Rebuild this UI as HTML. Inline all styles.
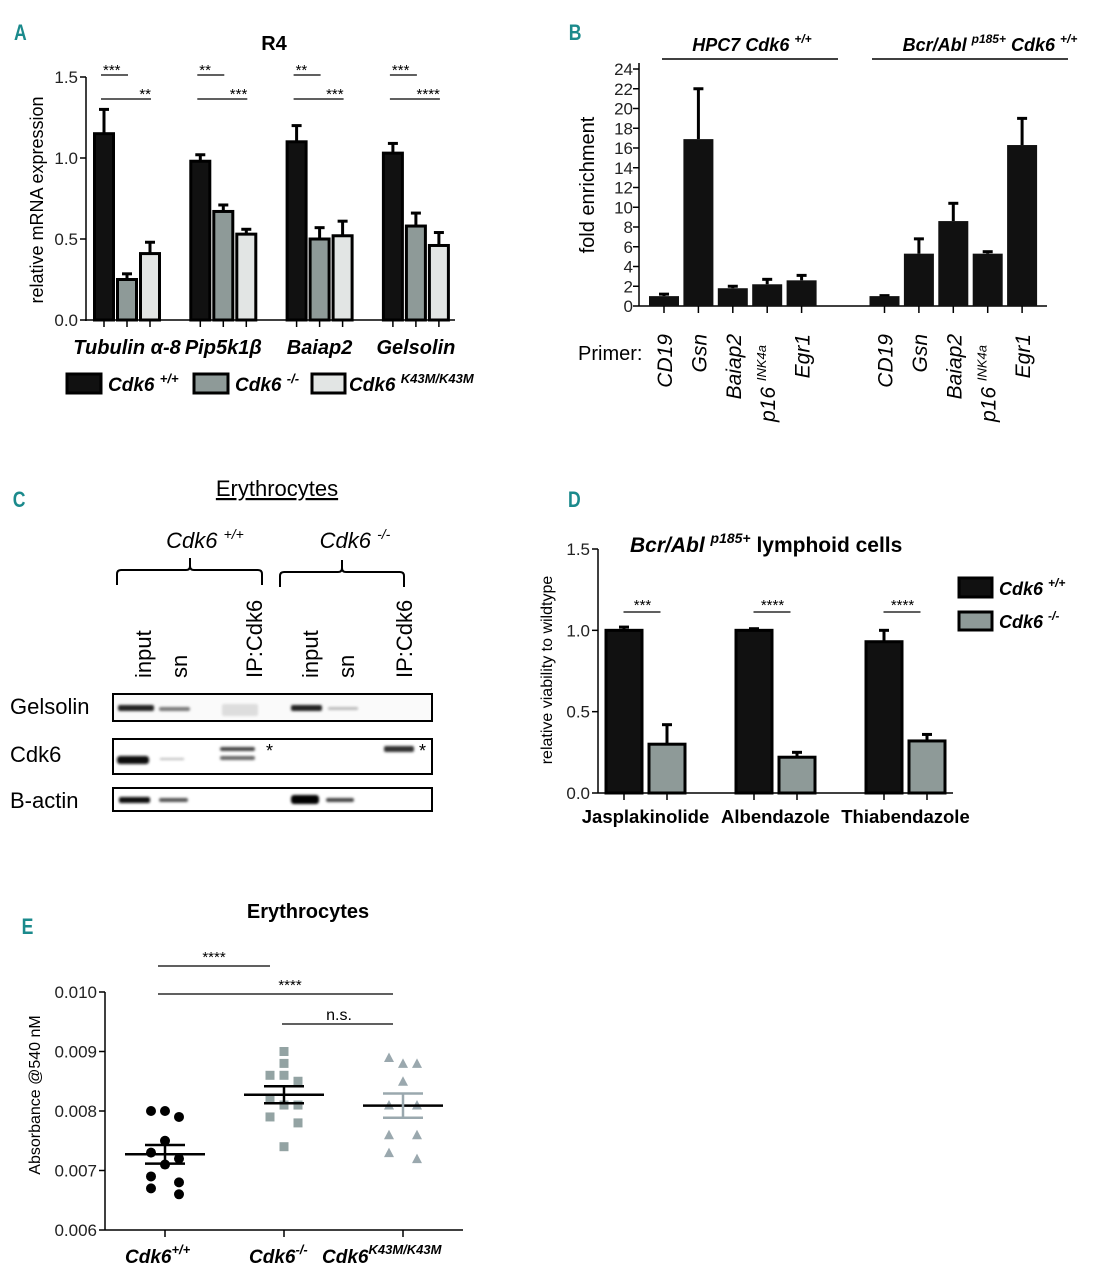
<!DOCTYPE html>
<html><head><meta charset="utf-8"><style>
html,body{margin:0;padding:0;background:#fff;}
svg{display:block;font-family:"Liberation Sans",Arial,sans-serif;}
</style></head><body>
<svg id="fig" width="1118" height="1280" viewBox="0 0 1118 1280" xmlns="http://www.w3.org/2000/svg">
<defs><filter id="blur" x="-20%" y="-100%" width="140%" height="300%"><feGaussianBlur stdDeviation="1.2"/></filter></defs>

<g fill="#1b8a8c" font-weight="bold" font-size="22">
<text x="14" y="40" transform="scale(0.8,1) translate(3.5,0)">A</text>
<text x="711" y="40" transform="scale(0.8,1)">B</text>
<text x="16" y="507" transform="scale(0.8,1)">C</text>
<text x="710" y="507" transform="scale(0.8,1)">D</text>
<text x="27" y="934" transform="scale(0.8,1)">E</text>
</g>

<g id="panelA">
<text x="274" y="50" font-size="20" font-weight="bold" text-anchor="middle">R4</text>
<text transform="translate(43,200) rotate(-90)" font-size="18" text-anchor="middle">relative mRNA expression</text>
<g font-size="19" font-weight="bold" font-style="italic">
<rect x="67" y="374" width="34" height="19" fill="#111" stroke="#000" stroke-width="3"/>
<text x="108" y="391">Cdk6 <tspan font-size="13" dy="-8">+/+</tspan></text>
<rect x="194" y="374" width="34" height="19" fill="#8e9a98" stroke="#000" stroke-width="3"/>
<text x="235" y="391">Cdk6 <tspan font-size="13" dy="-8">-/-</tspan></text>
<rect x="312" y="374" width="33" height="19" fill="#e2e5e4" stroke="#000" stroke-width="3"/>
<text x="349" y="391">Cdk6 <tspan font-size="13" dy="-8">K43M/K43M</tspan></text>
</g>
</g>

<g id="panelB">
<text transform="translate(594,185) rotate(-90)" font-size="20" text-anchor="middle">fold enrichment</text>
<g font-size="18" font-weight="bold" font-style="italic">
<text x="752" y="51" text-anchor="middle">HPC7 Cdk6 <tspan font-size="12" dy="-8">+/+</tspan></text>
<text x="990" y="51" text-anchor="middle">Bcr/Abl <tspan font-size="12" dy="-8">p185+</tspan><tspan dy="8"> Cdk6 </tspan><tspan font-size="12" dy="-8">+/+</tspan></text>
</g>
<line x1="662" y1="59" x2="838" y2="59" stroke="#000" stroke-width="1.5"/>
<line x1="872" y1="59" x2="1068" y2="59" stroke="#000" stroke-width="1.5"/>
<text x="578" y="360" font-size="20">Primer:</text>
</g>

<g id="panelC">
<text x="277" y="496" font-size="22" text-anchor="middle" text-decoration="underline">Erythrocytes</text>
<text x="205" y="548" font-size="22" font-style="italic" text-anchor="middle">Cdk6 <tspan font-size="14" dy="-9">+/+</tspan></text>
<text x="355" y="548" font-size="22" font-style="italic" text-anchor="middle">Cdk6 <tspan font-size="14" dy="-9">-/-</tspan></text>
<path d="M117,585 V574 Q117,570 121,570 H186 Q190,570 190,566 V558 M190,566 Q190,570 194,570 H258 Q262,570 262,574 V585" fill="none" stroke="#000" stroke-width="2"/>
<path d="M280,587 V576 Q280,572 284,572 H338 Q342,572 342,568 V560 M342,568 Q342,572 346,572 H400 Q404,572 404,576 V587" fill="none" stroke="#000" stroke-width="2"/>
<g font-size="22">
<text transform="translate(151,678) rotate(-90)">input</text>
<text transform="translate(187,678) rotate(-90)">sn</text>
<text transform="translate(262,678) rotate(-90)">IP:Cdk6</text>
<text transform="translate(318,678) rotate(-90)">input</text>
<text transform="translate(354,678) rotate(-90)">sn</text>
<text transform="translate(412,678) rotate(-90)">IP:Cdk6</text>
<text x="10" y="714">Gelsolin</text>
<text x="10" y="762">Cdk6</text>
<text x="10" y="808">B-actin</text>
</g>
<rect x="113" y="694" width="319" height="27" fill="#fafafa" stroke="#000" stroke-width="2"/>
<rect x="113" y="739" width="319" height="35" fill="#fff" stroke="#000" stroke-width="2"/>
<rect x="113" y="788" width="319" height="23" fill="#fff" stroke="#000" stroke-width="2"/>
<g filter="url(#blur)">
<rect x="118" y="705" width="36" height="6" rx="2" fill="#222"/>
<rect x="159" y="707" width="31" height="4" rx="2" fill="#777"/>
<rect x="222" y="704" width="36" height="12" rx="2" fill="#ddd"/>
<rect x="291" y="705" width="31" height="6" rx="2" fill="#222"/>
<rect x="328" y="707" width="30" height="3" rx="1" fill="#bbb"/>
<rect x="117" y="756" width="32" height="8" rx="3" fill="#111"/>
<rect x="160" y="758" width="24" height="2" fill="#bbb"/>
<rect x="220" y="747" width="35" height="4" rx="2" fill="#444"/>
<rect x="220" y="756" width="35" height="4" rx="2" fill="#666"/>
<rect x="384" y="746" width="30" height="6" rx="2" fill="#333"/>
<rect x="119" y="797" width="31" height="6" rx="2" fill="#111"/>
<rect x="159" y="798" width="29" height="4" rx="2" fill="#555"/>
<rect x="291" y="795" width="28" height="9" rx="3" fill="#000"/>
<rect x="326" y="798" width="28" height="4" rx="2" fill="#444"/>
</g>
<text x="266" y="757" font-size="18">*</text>
<text x="419" y="757" font-size="18">*</text>
</g>

<g id="panelD">
<text x="630" y="552" font-size="21" font-weight="bold"><tspan font-style="italic">Bcr/Abl </tspan><tspan font-size="14" font-style="italic" dy="-9">p185+</tspan><tspan dy="9"> lymphoid cells</tspan></text>
<text transform="translate(552,670) rotate(-90)" font-size="16" text-anchor="middle">relative viability to wildtype</text>
<g font-size="18" font-weight="bold" font-style="italic">
<rect x="959" y="578" width="33" height="19" fill="#111" stroke="#000" stroke-width="3"/>
<text x="999" y="595">Cdk6 <tspan font-size="12" dy="-8">+/+</tspan></text>
<rect x="959" y="612" width="33" height="18" fill="#8e9a98" stroke="#000" stroke-width="3"/>
<text x="999" y="628">Cdk6 <tspan font-size="12" dy="-8">-/-</tspan></text>
</g>
</g>

<g id="panelE">
<text x="308" y="918" font-size="20" font-weight="bold" text-anchor="middle">Erythrocytes</text>
<text transform="translate(40,1095) rotate(-90)" font-size="16" text-anchor="middle">Absorbance @540 nM</text>
<line x1="158" y1="966" x2="270" y2="966" stroke="#000" stroke-width="1.3"/>
<text x="214" y="962" font-size="15" text-anchor="middle">****</text>
<line x1="158" y1="994" x2="393" y2="994" stroke="#000" stroke-width="1.3"/>
<text x="290" y="990" font-size="15" text-anchor="middle">****</text>
<line x1="282" y1="1024" x2="393" y2="1024" stroke="#000" stroke-width="1.3"/>
<text x="339" y="1020" font-size="16" text-anchor="middle">n.s.</text>
</g>
</svg>

<script>
const NS='http://www.w3.org/2000/svg';
const svg=document.getElementById('fig');
function el(tag,attrs,parent){const e=document.createElementNS(NS,tag);for(const k in attrs)e.setAttribute(k,attrs[k]);(parent||svg).appendChild(e);return e;}

const aCats=['Tubulin α-8','Pip5k1β','Baiap2','Gelsolin'];
const aWT=[1.15,0.98,1.10,1.03];
const aWTerr=[0.15,0.04,0.10,0.06];
const aKO=[0.25,0.67,0.50,0.58];
const aKOerr=[0.035,0.04,0.07,0.08];
const aKM=[0.41,0.53,0.52,0.46];
const aKMerr=[0.07,0.03,0.09,0.08];
const aTicks=[0,0.5,1.0,1.5];
const aTickLabels=['0.0','0.5','1.0','1.5'];
const aSig1=['***','**','**','***'];
const aSig2=['**','***','***','****'];

const bCats1=['CD19','Gsn','Baiap2','p16','Egr1'];
const bCats2=['CD19','Gsn','Baiap2','p16','Egr1'];
const bVals1=[1.0,16.9,1.8,2.2,2.6];
const bErr1=[0.2,5.1,0.2,0.5,0.5];
const bVals2=[1.0,5.3,8.6,5.3,16.3];
const bErr2=[0.05,1.5,1.8,0.2,2.7];
const bTicks=[0,2,4,6,8,10,12,14,16,18,20,22,24];

const dCats=['Jasplakinolide','Albendazole','Thiabendazole'];
const dWT=[1.0,1.0,0.93];
const dWTerr=[0.02,0.01,0.07];
const dKO=[0.30,0.22,0.32];
const dKOerr=[0.12,0.03,0.04];
const dTicks=[0,0.5,1.0,1.5];
const dTickLabels=['0.0','0.5','1.0','1.5'];
const dSig=['***','****','****'];

const eCats=['wt','ko','k43m'];
const eWT=[0.0080,0.0079,0.0080,0.0075,0.0072,0.0073,0.0071,0.0068,0.0069,0.0067,0.0066];
const eKO=[0.0090,0.0088,0.0086,0.0086,0.0085,0.0082,0.0081,0.0081,0.0079,0.0078,0.0074];
const eKM=[0.0089,0.0088,0.0088,0.0085,0.0081,0.0081,0.0076,0.0076,0.0073,0.0072];
const eTicks=[0.006,0.007,0.008,0.009,0.010];
const eTickLabels=['0.006','0.007','0.008','0.009','0.010'];

function errBar(g,xc,ytop,yerr,name){
  const l=el('line',{x1:xc,y1:ytop,x2:xc,y2:yerr,stroke:'#000','stroke-width':3},g);
  
  
  const c=el('line',{x1:xc-5,y1:yerr,x2:xc+5,y2:yerr,stroke:'#000','stroke-width':3},g);
  
  
}

(function(){
  const g=document.getElementById('panelA');
  const y0=320,yTop=77,vmax=1.5;
  const yA=v=>y0-v*(y0-yTop)/vmax;
  const gx=i=>127+i*96.3;
  const ax=el('line',{x1:86,y1:yTop,x2:86,y2:y0+1,stroke:'#000','stroke-width':1.5},g);
  
  
  const xa=el('line',{x1:85,y1:y0,x2:455,y2:y0,stroke:'#000','stroke-width':1.5},g);
  
  
  aTicks.forEach((t,i)=>{
    const tk=el('line',{x1:80,y1:yA(t),x2:86,y2:yA(t),stroke:'#000','stroke-width':1.5},g);
    
    
    const tl=el('text',{x:78,y:yA(t)+6,'font-size':17,'text-anchor':'end',fill:'#222'},g);
    tl.textContent=aTickLabels[i];
    
    
  });
  const series=[[aWT,aWTerr,'#111','wt'],[aKO,aKOerr,'#8e9a98','ko'],[aKM,aKMerr,'#e2e5e4','k43m']];
  aCats.forEach((c,i)=>{
    series.forEach((s,j)=>{
      const xc=gx(i)+(j-1)*23;
      const v=s[0][i];
      errBar(g,xc,yA(v),yA(v+s[1][i]),'panel-a-bar-'+s[3]);
      const r=el('rect',{x:xc-9.5,y:yA(v),width:19,height:y0-yA(v),fill:s[2],stroke:'#000','stroke-width':3},g);
      
      
      const tk=el('line',{x1:xc,y1:y0,x2:xc,y2:y0+7,stroke:'#000','stroke-width':1.5},g);
      
      
    });
    const lab=el('text',{x:gx(i),y:354,'font-size':20,'font-weight':'bold','font-style':'italic','text-anchor':'middle'},g);
    lab.textContent=c;
    
    
    const l1=el('line',{x1:gx(i)-26,y1:75,x2:gx(i)+1,y2:75,stroke:'#000','stroke-width':1.3},g);
    
    
    const s1=el('text',{x:gx(i)-24,y:75,'font-size':15},g);
    s1.textContent=aSig1[i];
    
    
    const l2=el('line',{x1:gx(i)-26,y1:99,x2:gx(i)+24,y2:99,stroke:'#000','stroke-width':1.3},g);
    
    
    const s2=el('text',{x:gx(i)+24,y:99,'font-size':15,'text-anchor':'end'},g);
    s2.textContent=aSig2[i];
    
    
  });
})();

(function(){
  const g=document.getElementById('panelB');
  const y0=306,per=9.875;
  const yB=v=>y0-v*per;
  const ax=el('line',{x1:639,y1:yB(24)-6,x2:639,y2:y0,stroke:'#000','stroke-width':1.5},g);
  
  
  const xa=el('line',{x1:639,y1:y0,x2:1047,y2:y0,stroke:'#000','stroke-width':1.5},g);
  
  
  bTicks.forEach(t=>{
    const tk=el('line',{x1:633,y1:yB(t),x2:639,y2:yB(t),stroke:'#000','stroke-width':1.5},g);
    
    
    const tl=el('text',{x:633,y:yB(t)+6,'font-size':17,'text-anchor':'end',fill:'#222'},g);
    tl.textContent=String(t);
    
    
  });
  const groups=[[bCats1,bVals1,bErr1,664,'hpc7'],[bCats2,bVals2,bErr2,884.5,'bcrabl']];
  groups.forEach(G=>{
    G[0].forEach((c,i)=>{
      const xc=G[3]+i*34.4, v=G[1][i];
      errBar(g,xc,yB(v),yB(v+G[2][i]),'panel-b-bar-'+G[4]);
      const r=el('rect',{x:xc-15,y:yB(v),width:30,height:y0-yB(v),fill:'#111'},g);
      
      
      const tk=el('line',{x1:xc,y1:y0,x2:xc,y2:y0+7,stroke:'#000','stroke-width':1.5},g);
      
      
      const lab=el('text',{transform:'translate('+(xc+8)+',334) rotate(-90)','font-size':21,'font-style':'italic','text-anchor':'end'},g);
      if(c==='p16'){
        lab.setAttribute('text-anchor','start');
        lab.setAttribute('transform','translate('+(xc+8)+',422) rotate(-90)');
        const a=el('tspan',{},lab);a.textContent='p16 ';
        const b=el('tspan',{'font-size':13,dy:-9},lab);b.textContent='INK4a';
      } else lab.textContent=c;
      
      
    });
  });
})();

(function(){
  const g=document.getElementById('panelD');
  const y0=793,yTop=549;
  const yD=v=>y0-v*(y0-yTop)/1.5;
  const ax=el('line',{x1:598,y1:yTop,x2:598,y2:y0,stroke:'#000','stroke-width':1.5},g);
  
  
  const xa=el('line',{x1:598,y1:y0,x2:953,y2:y0,stroke:'#000','stroke-width':1.5},g);
  
  
  dTicks.forEach((t,i)=>{
    const tk=el('line',{x1:592,y1:yD(t),x2:598,y2:yD(t),stroke:'#000','stroke-width':1.5},g);
    
    
    const tl=el('text',{x:590,y:yD(t)+6,'font-size':17,'text-anchor':'end',fill:'#222'},g);
    tl.textContent=dTickLabels[i];
    
    
  });
  dCats.forEach((c,i)=>{
    const gc=645.5+i*130;
    [[dWT,dWTerr,'#111','wt',-21.5],[dKO,dKOerr,'#8e9a98','ko',21.5]].forEach(s=>{
      const xc=gc+s[4], v=s[0][i];
      errBar(g,xc,yD(v),yD(v+s[1][i]),'panel-d-bar-'+s[3]);
      const r=el('rect',{x:xc-18,y:yD(v),width:36,height:y0-yD(v),fill:s[2],stroke:'#000','stroke-width':3},g);
      
      
      const tk=el('line',{x1:xc,y1:y0,x2:xc,y2:y0+7,stroke:'#000','stroke-width':1.5},g);
      
      
    });
    const lab=el('text',{x:gc,y:823,'font-size':18.5,'font-weight':'bold','text-anchor':'middle'},g);
    lab.textContent=c;
    
    
    const sl=el('line',{x1:gc-22,y1:612,x2:gc+15,y2:612,stroke:'#000','stroke-width':1.3},g);
    
    
    const st=el('text',{x:gc-3,y:610,'font-size':15,'text-anchor':'middle'},g);
    st.textContent=dSig[i];
    
    
  });
})();

(function(){
  const g=document.getElementById('panelE');
  const y0=1230,yTop=992;
  const yE=v=>y0-(v-0.006)*(y0-yTop)/0.004;
  const ax=el('line',{x1:105,y1:yTop,x2:105,y2:y0,stroke:'#000','stroke-width':1.5},g);
  
  
  const xa=el('line',{x1:105,y1:y0,x2:463,y2:y0,stroke:'#000','stroke-width':1.5},g);
  
  
  eTicks.forEach((t,i)=>{
    const tk=el('line',{x1:99,y1:yE(t),x2:105,y2:yE(t),stroke:'#000','stroke-width':1.5},g);
    
    
    const tl=el('text',{x:97,y:yE(t)+6,'font-size':17,'text-anchor':'end',fill:'#222'},g);
    tl.textContent=eTickLabels[i];
    
    
  });
  const groups=[[eWT,'#000','circle','#000'],[eKO,'#93a3a3','square','#000'],[eKM,'#9aa8ae','triangle','#9aa8ae']];
  groups.forEach((G,gi)=>{
    const xc=165+gi*119;
    const vals=G[0].slice().sort((a,b)=>b-a);
    const rows=[];
    vals.forEach(v=>{const r=rows.find(r=>Math.abs(r[0]-v)<0.00012);if(r)r.push(v);else rows.push([v]);});
    rows.forEach(r=>{
      r.forEach((v,k)=>{
        const px=xc+(k-(r.length-1)/2)*(r.length>2?14:(r.length===2?28:0));
        const py=yE(v);
        let m;
        if(G[2]==='circle') m=el('circle',{cx:px,cy:py,r:5,fill:G[1]},g);
        else if(G[2]==='square') m=el('rect',{x:px-4.5,y:py-4.5,width:9,height:9,fill:G[1]},g);
        else m=el('polygon',{points:(px)+','+(py-5)+' '+(px-5)+','+(py+4.5)+' '+(px+5)+','+(py+4.5),fill:G[1]},g);
        
        
      });
    });
    const n=G[0].length;
    const mean=G[0].reduce((a,b)=>a+b,0)/n;
    const sd=Math.sqrt(G[0].reduce((a,b)=>a+(b-mean)*(b-mean),0)/(n-1));
    const sem=sd/Math.sqrt(n);
    const ml=el('line',{x1:xc-40,y1:yE(mean),x2:xc+40,y2:yE(mean),stroke:'#000','stroke-width':2.5},g);
    
    
    const sc=G[3];
    [mean+sem,mean-sem].forEach(v=>{
      const s=el('line',{x1:xc-20,y1:yE(v),x2:xc+20,y2:yE(v),stroke:sc,'stroke-width':2.5},g);
      
      
    });
    const sv=el('line',{x1:xc,y1:yE(mean+sem),x2:xc,y2:yE(mean-sem),stroke:sc,'stroke-width':2.5},g);
    
    
    const tk=el('line',{x1:xc,y1:y0,x2:xc,y2:y0+7,stroke:'#000','stroke-width':1.5},g);
    
    
  });
  const labs=[[125,'+/+'],[249,'-/-'],[322,'K43M/K43M']];
  labs.forEach((L,i)=>{
    const t=el('text',{x:L[0],y:1263,'font-size':19,'font-weight':'bold','font-style':'italic'},g);
    const a=el('tspan',{},t);a.textContent='Cdk6';
    const b=el('tspan',{'font-size':13,dy:-9},t);b.textContent=L[1];
    
    
  });
})();
</script>
</body></html>
